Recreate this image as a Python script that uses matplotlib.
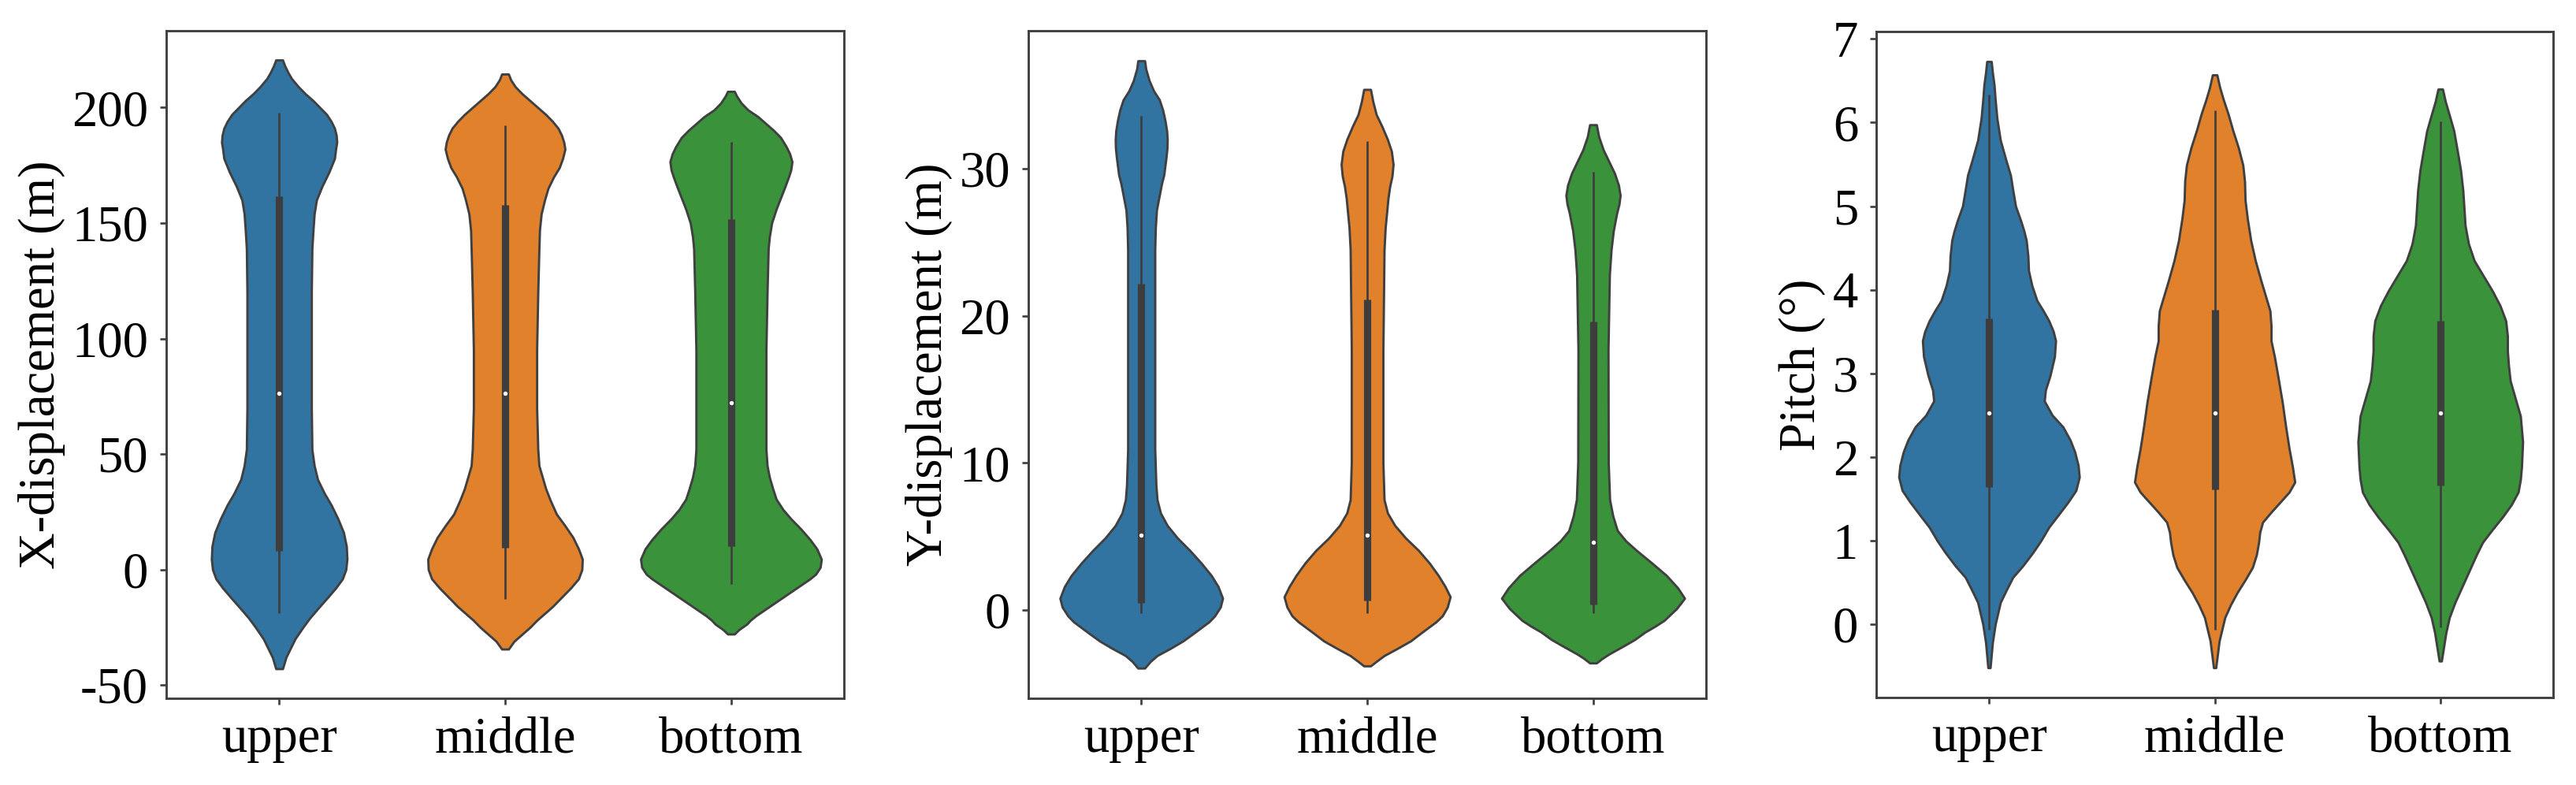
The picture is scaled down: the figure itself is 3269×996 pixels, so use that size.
import matplotlib
matplotlib.use("Agg")
import matplotlib.pyplot as plt
import numpy as np

plt.rcParams['font.family'] = ['Liberation Serif', 'DejaVu Serif']
plt.rcParams['axes.unicode_minus'] = False

groups = ['upper', 'middle', 'bottom']
colors = ['#3274a1', '#e1812c', '#3a923a']

# violin outlines: value levels and full width (category units)
xdisp_levels = [
    [220.6, 218, 215, 212.5, 209, 206, 203, 200, 197, 194, 191, 188, 185, 182, 178, 172, 166, 160, 154, 147, 139, 120, 95, 70,
     52, 45, 39, 33, 28, 22, 16, 10, 4.5, 0, -4, -8, -12, -17, -21, -25, -30, -34, -38, -42.9],
    [214.5, 212, 209, 206, 203, 200, 197, 194, 191, 188, 185, 182, 178, 174, 170, 165, 160, 154, 147, 139, 120, 95, 70,
     52, 45, 40, 35, 30, 24, 19, 14, 9, 4.5, 0, -4, -8, -12, -16, -19, -22, -25, -28, -31, -34.4],
    [207, 205, 202, 199, 196, 193, 190, 187, 183, 180, 176.6, 173, 170, 166, 161, 156, 150, 144, 139, 120, 95, 70,
     52, 45, 40, 35, 30.5, 26, 22, 17.5, 13, 9, 4.5, 1, -2, -4, -7, -10, -13, -17, -20, -22, -23.6, -26, -27.9],
]
xdisp_widths = [
    [0.03, 0.05, 0.08, 0.11, 0.17, 0.23, 0.30, 0.36, 0.42, 0.46, 0.49, 0.505, 0.51, 0.50, 0.49, 0.44, 0.38, 0.33, 0.31, 0.30, 0.29, 0.285, 0.285, 0.285,
     0.29, 0.31, 0.34, 0.40, 0.46, 0.52, 0.57, 0.595, 0.60, 0.59, 0.56, 0.50, 0.43, 0.34, 0.27, 0.21, 0.14, 0.10, 0.06, 0.03],
    [0.03, 0.05, 0.09, 0.15, 0.22, 0.29, 0.36, 0.42, 0.47, 0.50, 0.52, 0.53, 0.51, 0.48, 0.43, 0.38, 0.35, 0.32, 0.305, 0.30, 0.29, 0.28, 0.28,
     0.29, 0.30, 0.33, 0.36, 0.40, 0.455, 0.53, 0.60, 0.65, 0.684, 0.68, 0.65, 0.58, 0.50, 0.42, 0.35, 0.28, 0.22, 0.15, 0.08, 0.03],
    [0.03, 0.05, 0.09, 0.15, 0.24, 0.31, 0.38, 0.44, 0.49, 0.52, 0.54, 0.53, 0.51, 0.48, 0.44, 0.40, 0.36, 0.34, 0.33, 0.32, 0.31, 0.31,
     0.31, 0.32, 0.34, 0.37, 0.40, 0.46, 0.53, 0.62, 0.70, 0.76, 0.80, 0.79, 0.75, 0.70, 0.61, 0.52, 0.43, 0.31, 0.22, 0.17, 0.14, 0.07, 0.03],
]
# whisker low, q1, median, q3, whisker high
xdisp_box = [
    [-18.8, 8.2, 76.2, 161.5, 197.6],
    [-12.8, 9.5, 76.2, 157.8, 192.2],
    [-6.3, 10.0, 72.1, 151.7, 185.3],
]

ydisp_levels = [
    [37.35, 36.8, 36.0, 35.3, 34.7, 34.0, 33.3, 32.6, 32, 31.4, 30.8, 30.2, 29.6, 29, 28.4, 27.8, 27.2, 26, 24.5, 17.7, 10.9, 8.5,
     7.5, 6.6, 5.75, 4.9, 4.05, 3.2, 2.35, 1.6, 0.8, 0.2, -0.4, -0.8, -1.2, -1.6, -2.1, -2.6, -3.1, -3.5, -3.95],
    [35.4, 34.6, 33.7, 32.9, 32, 31.2, 30.3, 29.5, 28.8, 28, 27.2, 26, 24.5, 17.7, 10, 7.5, 6.6, 5.75, 4.9, 4.05, 3.2, 2.35,
     1.6, 0.9, 0.2, -0.4, -0.8, -1.2, -1.6, -2.1, -2.6, -3.1, -3.5, -3.8],
    [33.0, 32.2, 31.3, 30.5, 29.7, 28.9, 28.2, 27.6, 27, 26.4, 25.8, 24.5, 22.8, 17.7, 10, 7.5, 6.4, 5.4, 4.7, 4.05, 3.2, 2.35,
     1.5, 0.8, 0.1, -0.7, -1.1, -1.5, -2.0, -2.4, -3.0, -3.3, -3.6],
]
ydisp_widths = [
    [0.03, 0.04, 0.07, 0.11, 0.16, 0.19, 0.21, 0.225, 0.23, 0.228, 0.22, 0.21, 0.20, 0.18, 0.165, 0.15, 0.135, 0.125, 0.12, 0.12, 0.12, 0.13,
     0.14, 0.17, 0.23, 0.32, 0.43, 0.53, 0.62, 0.68, 0.72, 0.70, 0.65, 0.60, 0.53, 0.46, 0.37, 0.26, 0.14, 0.08, 0.03],
    [0.03, 0.05, 0.08, 0.13, 0.18, 0.215, 0.23, 0.22, 0.20, 0.185, 0.175, 0.16, 0.15, 0.14, 0.14, 0.15, 0.18, 0.245, 0.34, 0.455, 0.55, 0.63,
     0.69, 0.735, 0.71, 0.665, 0.61, 0.54, 0.47, 0.385, 0.27, 0.15, 0.08, 0.03],
    [0.03, 0.05, 0.09, 0.14, 0.19, 0.225, 0.24, 0.23, 0.21, 0.195, 0.18, 0.16, 0.145, 0.133, 0.135, 0.147, 0.175, 0.215, 0.29, 0.385, 0.52, 0.65,
     0.75, 0.81, 0.74, 0.63, 0.55, 0.46, 0.37, 0.28, 0.14, 0.08, 0.03],
]
ydisp_box = [
    [-0.2, 0.5, 5.1, 22.2, 33.6],
    [-0.2, 0.65, 5.07, 21.1, 31.9],
    [-0.2, 0.4, 4.6, 19.6, 29.8],
]

pitch_levels = [
    [6.73, 6.6, 6.45, 6.27, 6.05, 5.79, 5.55, 5.37, 5.2, 5.0, 4.83, 4.7, 4.59, 4.4, 4.23, 4.05, 3.87, 3.75, 3.63, 3.5, 3.39, 3.2,
     2.97, 2.8, 2.67, 2.5, 2.36, 2.2, 2.06, 1.9, 1.76, 1.6, 1.46, 1.3, 1.16, 1.0, 0.86, 0.7, 0.56, 0.4, 0.26, 0.0, -0.22, -0.52],
    [6.57, 6.42, 6.27, 6.1, 5.91, 5.7, 5.49, 5.3, 5.07, 4.85, 4.59, 4.35, 4.11, 3.93, 3.75, 3.57, 3.39, 3.2, 2.97, 2.65,
     2.36, 2.1, 1.88, 1.70, 1.58, 1.46, 1.34, 1.22, 1.1, 0.98, 0.83, 0.68, 0.53, 0.38, 0.23, 0.08, -0.2, -0.52],
    [6.40, 6.25, 6.09, 5.9, 5.67, 5.43, 5.19, 4.98, 4.77, 4.55, 4.35, 4.17, 3.99, 3.81, 3.63, 3.45, 3.27, 3.09,
     2.91, 2.7, 2.49, 2.18, 1.88, 1.73, 1.58, 1.43, 1.28, 1.13, 0.98, 0.83, 0.68, 0.47, 0.26, 0.08, -0.1, -0.44],
]
pitch_widths = [
    [0.02, 0.03, 0.045, 0.055, 0.07, 0.10, 0.15, 0.19, 0.21, 0.235, 0.28, 0.31, 0.33, 0.345, 0.35, 0.38, 0.425, 0.48, 0.53, 0.57, 0.59, 0.58,
     0.54, 0.50, 0.49, 0.56, 0.655, 0.72, 0.76, 0.79, 0.80, 0.77, 0.70, 0.61, 0.53, 0.46, 0.39, 0.30, 0.21, 0.15, 0.10, 0.055, 0.03, 0.01],
    [0.02, 0.045, 0.078, 0.12, 0.16, 0.21, 0.25, 0.265, 0.27, 0.29, 0.32, 0.36, 0.41, 0.45, 0.49, 0.50, 0.50, 0.53, 0.56, 0.60,
     0.63, 0.66, 0.69, 0.71, 0.66, 0.58, 0.50, 0.425, 0.40, 0.39, 0.37, 0.335, 0.27, 0.20, 0.14, 0.09, 0.04, 0.01],
    [0.02, 0.045, 0.08, 0.12, 0.15, 0.18, 0.20, 0.21, 0.22, 0.25, 0.30, 0.38, 0.46, 0.53, 0.58, 0.595, 0.595, 0.605,
     0.62, 0.665, 0.71, 0.73, 0.72, 0.71, 0.69, 0.63, 0.55, 0.46, 0.375, 0.32, 0.27, 0.20, 0.13, 0.08, 0.05, 0.01],
]
pitch_box = [
    [-0.07, 1.64, 2.53, 3.66, 6.33],
    [-0.07, 1.61, 2.53, 3.76, 6.15],
    [-0.04, 1.66, 2.53, 3.63, 6.01],
]

FS = 15.5
EDGE = '#404040'
INNER = '#3d3d3d'


def draw_panel(ax, levels, widths, box, ylabel, ylim, yticks):
    vpstats = []
    for lv, w, b in zip(levels, widths, box):
        vpstats.append({'coords': np.array(lv), 'vals': np.array(w),
                        'mean': b[2], 'median': b[2], 'min': b[0], 'max': b[4]})
    maxw = [max(w) for w in widths]
    parts = ax.violin(vpstats, positions=range(len(groups)), widths=maxw,
                      showmeans=False, showextrema=False, showmedians=False)
    for body, c in zip(parts['bodies'], colors):
        body.set_facecolor(c)
        body.set_edgecolor(EDGE)
        body.set_linewidth(0.7)
        body.set_alpha(1)
        body.set_joinstyle('round')
    for i, b in enumerate(box):
        ax.vlines(i, b[0], b[4], color=INNER, lw=0.65, zorder=3)
        ax.vlines(i, b[1], b[3], color=INNER, lw=2.2, zorder=3)
        ax.plot(i, b[2], 'o', color='white', ms=1.3, mew=0, zorder=4)
    ax.set_xlim(-0.5, 2.5)
    ax.set_ylim(*ylim)
    ax.set_yticks(yticks)
    ax.set_xticks(range(len(groups)))
    ax.set_xticklabels(groups)
    ax.set_ylabel(ylabel, fontsize=FS, labelpad=2)
    ax.tick_params(labelsize=FS, length=2, width=0.65, color=EDGE)
    for s in ax.spines.values():
        s.set_linewidth(0.7)
        s.set_color(EDGE)


fig = plt.figure(figsize=(3269 / 300, 996 / 300), dpi=300)
ax1 = fig.add_axes([211 / 3269, 0.1105, 860 / 3269, 0.8505])
ax2 = fig.add_axes([1305 / 3269, 0.1105, 860 / 3269, 0.8505])
ax3 = fig.add_axes([2381 / 3269, 0.1115, 859 / 3269, 0.8485])

draw_panel(ax1, xdisp_levels, xdisp_widths, xdisp_box, 'X-displacement (m)',
           (-55.7, 233.3), [-50, 0, 50, 100, 150, 200])
draw_panel(ax2, ydisp_levels, ydisp_widths, ydisp_box, 'Y-displacement (m)',
           (-6.0, 39.4), [0, 10, 20, 30])
draw_panel(ax3, pitch_levels, pitch_widths, pitch_box, 'Pitch (°)',
           (-0.876, 7.09), [0, 1, 2, 3, 4, 5, 6, 7])

fig.savefig('out.png', dpi=300)
